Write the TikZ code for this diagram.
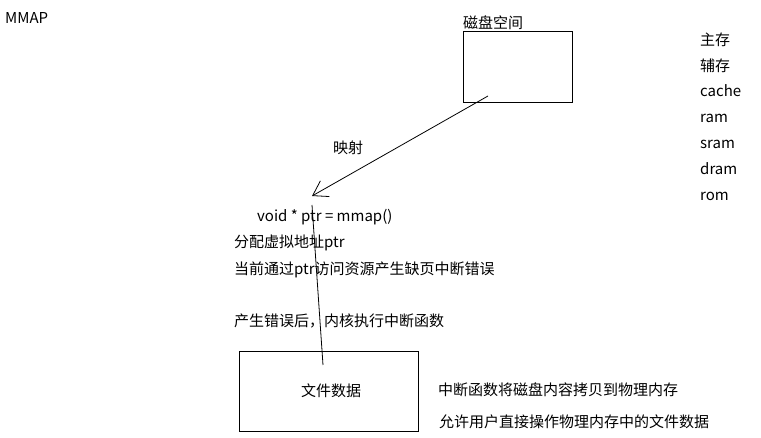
\documentclass[tikz,border=0pt]{standalone}
\usepackage{fontspec}
\setmainfont{Noto Sans CJK SC}
\usetikzlibrary{arrows.meta}
\begin{document}
\begin{tikzpicture}[x=1pt,y=-1pt,
  lbl/.style={anchor=west,inner sep=0pt,text height=14pt,text depth=0.5pt,font=\fontsize{15}{17}\selectfont},
  boxed/.style={draw,line width=0.8pt},
  conn/.style={line width=0.8pt}]
\useasboundingbox (0,0) rectangle (761,438);
\node[lbl] (title) at (5,17) {MMAP};
\node[lbl] (disklbl) at (463,22) {磁盘空间};
\node[boxed,minimum width=109,minimum height=71,anchor=north west,inner sep=0pt] (disk) at (463,31) {};
\node[lbl] (m1) at (700,39) {主存};
\node[lbl] (m2) at (700,65) {辅存};
\node[lbl] (m3) at (700,90) {cache};
\node[lbl] (m4) at (700,116) {ram};
\node[lbl] (m5) at (700,142) {sram};
\node[lbl] (m6) at (700,168) {dram};
\node[lbl] (m7) at (700,194) {rom};
\node[lbl] (map) at (333,147) {映射};
\node[lbl] (code) at (257,215) {void * ptr = mmap()};
\node[lbl] (t1) at (234,241) {分配虚拟地址ptr};
\node[lbl] (t2) at (234,268) {当前通过ptr访问资源产生缺页中断错误};
\node[lbl] (t3) at (234,320) {产生错误后，内核执行中断函数};
\node[boxed,minimum width=179,minimum height=80,anchor=north west,inner sep=0pt] (file) at (239,351) {};
\node[lbl,anchor=center] (filelbl) at (331,390) {文件数据};
\node[lbl] (t4) at (438,389) {中断函数将磁盘内容拷贝到物理内存};
\node[lbl] (t5) at (439,421) {允许用户直接操作物理内存中的文件数据};
\coordinate (src) at (488,96);
\coordinate (tip) at (312,196);
\coordinate (top) at (312,205);
\coordinate (bot) at (323,365);
\draw[conn,-{Straight Barb[length=14pt,width=18pt,line width=0.8pt]}] (src) -- (tip);
\draw[conn] (top) -- (bot);
\end{tikzpicture}
\end{document}
